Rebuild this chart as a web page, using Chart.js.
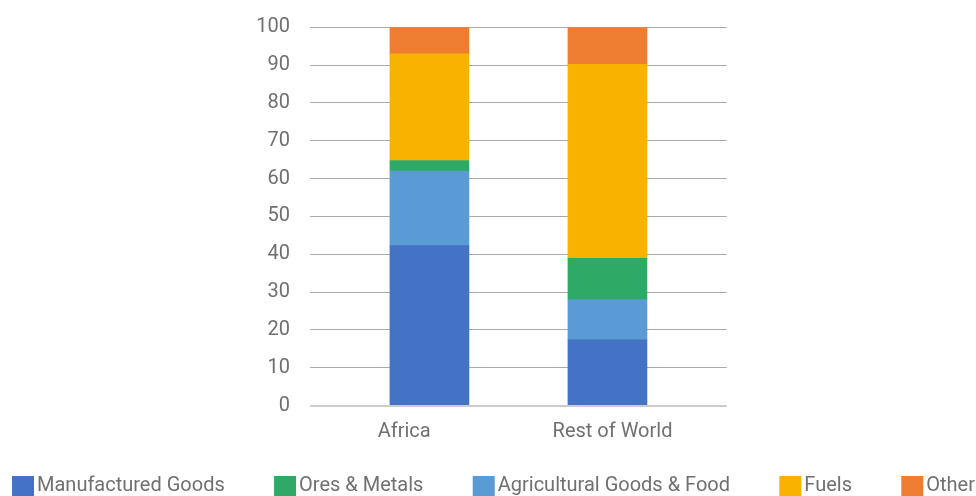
<!DOCTYPE html>
<html><head><meta charset="utf-8">
<script src="https://cdn.jsdelivr.net/npm/chart.js@4.4.1/dist/chart.umd.min.js"></script>
<style>html,body{margin:0;padding:0;overflow:hidden;background:#fff;width:976px;height:496px}canvas{display:block}</style>
</head><body>
<canvas id="c" width="976" height="496"></canvas>
<script>
const categories = ['Africa', 'Rest of World'];
const manufacturedGoods = [42.3, 17.4];
const agriculturalGoodsFood = [19.7, 10.6];
const oresMetals = [2.8, 10.9];
const fuels = [28.2, 51.3];
const other = [7.0, 9.8];
const yTickValues = [0, 10, 20, 30, 40, 50, 60, 70, 80, 90, 100];
const legendOrder = ['Manufactured Goods', 'Ores & Metals', 'Agricultural Goods & Food', 'Fuels', 'Other'];

const FONT = 'Roboto';
const TEXT_COLOR = '#707070';
const XB_MIN = -0.671, XB_MAX = 1.67;
const toPoints = arr => arr.map((v, i) => ({ x: i, y: v }));

const datasets = [
  { label: 'Manufactured Goods', data: toPoints(manufacturedGoods), backgroundColor: '#4472C4' },
  { label: 'Agricultural Goods & Food', data: toPoints(agriculturalGoodsFood), backgroundColor: '#5B9BD5' },
  { label: 'Ores & Metals', data: toPoints(oresMetals), backgroundColor: '#2EAA66' },
  { label: 'Fuels', data: toPoints(fuels), backgroundColor: '#F8B200' },
  { label: 'Other', data: toPoints(other), backgroundColor: '#EE7D31' }
].map(d => Object.assign(d, { xAxisID: 'xb', yAxisID: 'y', borderWidth: 0, barThickness: 79 }));

// Legend spread across the bottom (justified), drawn from the chart's own legend items
const spreadLegend = {
  id: 'spreadLegend',
  afterDraw(chart, args, o) {
    const ctx = chart.ctx;
    const items = Chart.defaults.plugins.legend.labels.generateLabels(chart)
      .sort((a, b) => legendOrder.indexOf(a.text) - legendOrder.indexOf(b.text));
    ctx.save();
    ctx.font = o.size + 'px ' + o.family;
    ctx.textBaseline = 'middle';
    ctx.textAlign = 'left';
    const widths = items.map(it => ctx.measureText(it.text).width);
    const used = widths.reduce((s, w) => s + w + o.boxW + o.gap, 0);
    const spacing = (chart.width - o.left - o.right - used) / (items.length - 1);
    const top = chart.height - o.bottom - o.boxH;
    let x = o.left;
    items.forEach((it, i) => {
      ctx.fillStyle = it.fillStyle;
      ctx.fillRect(x, top, o.boxW, o.boxH);
      x += o.boxW + o.gap;
      ctx.fillStyle = o.color;
      ctx.fillText(it.text, x, top + o.boxH / 2);
      x += widths[i] + spacing;
    });
    ctx.restore();
  }
};

new Chart(document.getElementById('c'), {
  type: 'bar',
  data: { labels: categories, datasets },
  plugins: [spreadLegend],
  options: {
    responsive: false,
    animation: false,
    layout: { padding: { top: 27.3, left: 0, right: 0, bottom: 46 } },
    plugins: {
      tooltip: { enabled: false },
      legend: { display: false },
      spreadLegend: { left: 12, right: 1, bottom: 0, boxW: 22, boxH: 20, gap: 3, size: 20, family: FONT, color: TEXT_COLOR }
    },
    scales: {
      x: {
        type: 'category', labels: categories, offset: true,
        grid: { display: false, drawTicks: false }, border: { display: false },
        ticks: { color: TEXT_COLOR, font: { family: FONT, size: 20 }, padding: 14, labelOffset: -10, maxRotation: 0 },
        afterFit: s => { s.height = 44.4; }
      },
      xb: {
        type: 'linear', display: true, offset: false, stacked: true, bounds: 'data', min: XB_MIN, max: XB_MAX,
        grid: { display: false, drawTicks: false }, border: { display: false },
        ticks: { display: false },
        afterBuildTicks: s => { s.min = XB_MIN; s.max = XB_MAX; },
        afterFit: s => { s.height = 0; s.paddingLeft = 0; s.paddingRight = 0; }
      },
      y: {
        type: 'linear', position: 'left', stacked: true, min: 0, max: 100,
        afterBuildTicks: s => { s.ticks = yTickValues.map(v => ({ value: v })); },
        grid: {
          drawTicks: false,
          color: c => c.tick && c.tick.value === 0 ? '#cccccc' : '#aaaaaa',
          lineWidth: c => c.tick && c.tick.value === 0 ? 2 : 1
        },
        border: { display: false },
        ticks: { color: TEXT_COLOR, font: { family: FONT, size: 20 }, padding: 20 },
        afterFit: s => { s.width = 310; s.paddingTop = 12; s.paddingBottom = 12; }
      },
      yr: {
        type: 'linear', position: 'right', display: true,
        grid: { display: false, drawTicks: false }, border: { display: false },
        ticks: { display: false },
        afterFit: s => { s.width = 249.3; }
      }
    }
  }
});
</script>
</body></html>
